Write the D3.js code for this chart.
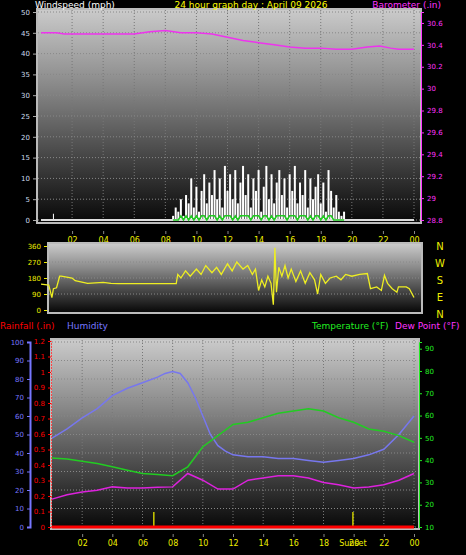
<!DOCTYPE html>
<html lang="en">
<head>
<meta charset="UTF-8">
<title>24 hour graph</title>
<style>
  body { margin: 0; background: #000; }
  text { font-family: "DejaVu Sans", sans-serif; }
</style>
</head>
<body>
<div id="chart"></div>
<script src="https://d3js.org/d3.v7.min.js"></script>
<script>
var hourTicks = [2, 4, 6, 8, 10, 12, 14, 16, 18, 20, 22, 24];
var hourLabels = ['02', '04', '06', '08', '10', '12', '14', '16', '18', '20', '22', '00'];

// barometer (hour, inHg)
var baroHours = [0, 1, 1.5, 3, 4, 6, 7, 8, 9, 10, 11, 12, 13, 14, 15, 16, 17, 18, 19, 20, 21, 21.8, 22.5, 23, 24];
var baroValues = [30.51, 30.51, 30.50, 30.50, 30.50, 30.50, 30.52, 30.53, 30.51, 30.51, 30.50, 30.47, 30.44, 30.42, 30.40, 30.38, 30.37, 30.37, 30.36, 30.36, 30.38, 30.39, 30.37, 30.36, 30.36];

// wind gusts (mph), one per 10 minutes starting 08:30
var gustStart = 8.5;
var gustValues = [1, 3, 2, 5, 1, 6, 4, 10, 3, 8, 2, 7, 11, 4, 9, 6, 12, 5, 10, 3, 13, 7, 11, 5, 12, 4, 9, 13, 6, 11, 3, 10, 7, 12, 2, 8, 13, 5, 11, 4, 9, 12, 6, 10, 3, 11, 7, 13, 4, 9, 6, 12, 3, 10, 5, 8, 11, 4, 9, 2, 12, 7, 3, 6, 2, 1, 2];
var avgValues = [0, 0, 0, 1, 0, 1, 0, 1, 0, 1, 0, 1, 1, 0, 1, 1, 1, 0, 1, 0, 1, 1, 1, 0, 1, 0, 1, 1, 1, 1, 0, 1, 1, 1, 0, 1, 1, 0, 1, 0, 1, 1, 1, 1, 0, 1, 1, 1, 0, 1, 1, 1, 0, 1, 0, 1, 1, 0, 1, 0, 1, 1, 0, 0, 0, 0, 0];

// wind direction (hour, degrees)
var dirHours = [0, 0.5, 0.7, 0.8, 1.0, 1.2, 1.3, 2.0, 2.2, 3.0, 4.0, 4.5, 5.0, 6.0, 7.0, 8.0, 8.7, 8.8, 9.0, 9.3, 9.6, 10.0, 10.3, 10.6, 11.0, 11.3, 11.6, 12.0, 12.3, 12.6, 13.0, 13.3, 13.6, 13.8, 14.0, 14.2, 14.4, 14.6, 14.8, 14.95, 15.05, 15.15, 15.3, 15.5, 15.7, 15.9, 16.1, 16.4, 16.7, 17.0, 17.3, 17.6, 17.8, 18.0, 18.3, 18.6, 19.0, 19.3, 19.6, 20.0, 20.5, 21.0, 21.2, 21.6, 21.9, 22.1, 22.3, 22.6, 22.9, 23.0, 23.5, 23.7, 24.0];
var dirValues = [145, 140, 70, 120, 125, 190, 190, 180, 165, 150, 155, 150, 148, 148, 148, 148, 148, 200, 180, 220, 190, 230, 200, 250, 210, 240, 200, 260, 220, 270, 230, 250, 200, 230, 110, 170, 130, 190, 150, 30, 350, 100, 240, 190, 250, 180, 230, 160, 220, 150, 210, 170, 90, 200, 150, 180, 190, 170, 200, 190, 200, 205, 120, 130, 110, 195, 150, 120, 100, 130, 130, 120, 70];

// bottom panel (hour based series)
var humHours = [0, 1, 2, 3, 4, 5, 6, 7, 7.5, 8, 8.5, 9, 9.5, 10, 10.5, 11, 11.5, 12, 13, 14, 15, 16, 17, 18, 19, 20, 21, 22, 23, 24];
var humValues = [48, 53, 59, 64, 71, 75, 78, 81, 83, 84, 83, 78, 70, 60, 50, 44, 41, 39, 38, 38, 37, 37, 36, 35, 36, 37, 39, 42, 50, 60];
var tempHours = [0, 1, 2, 3, 4, 5, 6, 7, 8, 9, 10, 11, 12, 13, 14, 15, 16, 17, 18, 19, 20, 21, 22, 23, 24];
var tempValues = [41, 40.5, 39.5, 38.5, 37, 35.5, 34, 33.5, 33, 37, 46, 51, 56, 57, 59, 61, 62, 63, 62, 59, 57, 54, 53, 51, 48];
var dewValues = [22.5, 24.5, 25.7, 26.5, 28, 27.5, 27.5, 27.8, 28, 34, 31, 27, 27, 31, 32, 33, 33, 32, 30, 29, 27.5, 28, 29, 31, 34];
var rainValues = [0, 0];
var rainHours = [0, 24];
var sunHours = [6.75, 19.95];

var W = 466, H = 555;
var svg = d3.select('#chart').append('svg').attr('width', W).attr('height', H);
var defs = svg.append('defs');
var grad = defs.append('linearGradient').attr('id', 'bg').attr('x1', 0).attr('y1', 0).attr('x2', 0).attr('y2', 1);
grad.append('stop').attr('offset', '0%').attr('stop-color', '#cacaca');
grad.append('stop').attr('offset', '35%').attr('stop-color', '#8a8a8a');
grad.append('stop').attr('offset', '100%').attr('stop-color', '#080808');

function panel(x0, x1, y0, y1) {
  svg.append('rect').attr('x', x0 - 2).attr('y', y0 - 2).attr('width', x1 - x0 + 4).attr('height', y1 - y0 + 4)
    .attr('fill', '#bbb');
  svg.append('rect').attr('x', x0).attr('y', y0).attr('width', x1 - x0).attr('height', y1 - y0)
    .attr('fill', 'url(#bg)');
}
function vgrid(x, y0, y1) {
  svg.append('g').selectAll('line').data(hourTicks).join('line')
    .attr('x1', d => x(d)).attr('x2', d => x(d)).attr('y1', y0).attr('y2', y1)
    .attr('stroke', '#777').attr('stroke-dasharray', '1,2');
}
function hgrid(y, ticks, x0, x1) {
  svg.append('g').selectAll('line').data(ticks).join('line')
    .attr('x1', x0).attr('x2', x1).attr('y1', d => y(d)).attr('y2', d => y(d))
    .attr('stroke', '#888').attr('stroke-dasharray', '1,2');
}
function hourAxis(x, yPos) {
  var g = svg.append('g').attr('transform', `translate(0,${yPos})`)
    .call(d3.axisBottom(x).tickValues(hourTicks).tickFormat((d, i) => hourLabels[i]).tickSize(3));
  g.select('.domain').remove();
  g.selectAll('line').attr('stroke', '#888');
  g.selectAll('text').attr('fill', '#ee0').attr('font-size', 8);
  return g;
}
function text(x, y, s, c, anchor, size) {
  svg.append('text').attr('x', x).attr('y', y).text(s).attr('fill', c)
    .attr('font-size', size || 9).attr('text-anchor', anchor || 'start');
}

// ---------- top panel ----------
var xT = d3.scaleLinear().domain([0, 24]).range([41, 414]);
var yWind = d3.scaleLinear().domain([0, 50]).range([220, 12]);
var yBaro = d3.scaleLinear().domain([28.8, 30.7]).range([220, 12]);
panel(38, 420, 10, 222);
vgrid(xT, 10, 222);
hgrid(yWind, d3.range(0, 51, 5), 38, 420);
text(35, 8, 'Windspeed (mph)', '#fff', 'start', 9);
text(251, 8, '24 hour graph day : April 09 2026', '#ff0', 'middle', 9);
text(441, 8, 'Barometer (.in)', '#f3f', 'end', 9);

var gl = svg.append('g').attr('transform', 'translate(36,0)')
  .call(d3.axisLeft(yWind).tickValues(d3.range(0, 51, 5)).tickSize(3));
gl.select('.domain').remove();
gl.selectAll('line').attr('stroke', '#aaa');
gl.selectAll('text').attr('fill', '#cde').attr('font-size', 7);
var gr = svg.append('g').attr('transform', 'translate(421,0)')
  .call(d3.axisRight(yBaro).tickValues(d3.range(28.8, 30.61, 0.2)).tickFormat(d => +d.toFixed(1)).tickSize(3));
gr.select('.domain').attr('stroke', '#f3f');
gr.selectAll('line').attr('stroke', '#f3f');
gr.selectAll('text').attr('fill', '#f3f').attr('font-size', 7);

svg.append('g').selectAll('line').data(gustValues).join('line')
  .attr('x1', (d, i) => xT(gustStart + i / 6)).attr('x2', (d, i) => xT(gustStart + i / 6))
  .attr('y1', yWind(0)).attr('y2', d => yWind(d))
  .attr('stroke', '#fff').attr('stroke-width', 2);
svg.append('line').attr('x1', xT(0.8)).attr('x2', xT(0.8)).attr('y1', yWind(0)).attr('y2', yWind(1.5))
  .attr('stroke', '#fff');
svg.append('line').attr('x1', xT(0)).attr('x2', xT(24)).attr('y1', yWind(0)).attr('y2', yWind(0))
  .attr('stroke', '#ddd').attr('stroke-width', 2);
svg.append('path').datum(avgValues)
  .attr('d', d3.line().x((d, i) => xT(gustStart + i / 6)).y(d => yWind(d)))
  .attr('fill', 'none').attr('stroke', '#2c2').attr('stroke-width', 1.5);
svg.append('path').datum(baroValues)
  .attr('d', d3.line().x((d, i) => xT(baroHours[i])).y(d => yBaro(d)))
  .attr('fill', 'none').attr('stroke', '#e3e').attr('stroke-width', 1.5);
hourAxis(xT, 231);

// ---------- middle panel ----------
var yDir = d3.scaleLinear().domain([0, 360]).range([310, 246]);
panel(49, 421, 244, 312);
hgrid(yDir, [90, 180, 270], 49, 421);
var gd = svg.append('g').attr('transform', 'translate(47,0)')
  .call(d3.axisLeft(yDir).tickValues([0, 90, 180, 270, 360]).tickSize(3));
gd.select('.domain').remove();
gd.selectAll('line').attr('stroke', '#ee0');
gd.selectAll('text').attr('fill', '#ee0').attr('font-size', 7);
svg.append('path').datum(dirValues)
  .attr('d', d3.line().x((d, i) => xT(dirHours[i])).y(d => yDir(d)))
  .attr('fill', 'none').attr('stroke', '#ee2').attr('stroke-width', 1.3);
['N', 'W', 'S', 'E', 'N'].forEach((c, i) => text(440, 250 + i * 17, c, '#ee0', 'middle', 10));

// ---------- bottom panel ----------
var xB = d3.scaleLinear().domain([0, 24]).range([52, 414]);
var yHum = d3.scaleLinear().domain([0, 100]).range([527, 342]);
var yRain = d3.scaleLinear().domain([0, 1.2]).range([527, 341]);
var yTemp = d3.scaleLinear().domain([10, 93]).range([527, 342]);
panel(52, 418, 340, 528);
vgrid(xB, 340, 528);
hgrid(yHum, d3.range(0, 101, 10), 52, 418);
text(0, 329, 'Rainfall (.in)', '#f00', 'start', 9);
text(67, 329, 'Humidity', '#77f', 'start', 9);
text(312, 329, 'Temperature (\u00b0F)', '#2e2', 'start', 9);
text(395, 329, 'Dew Point (\u00b0F)', '#f3f', 'start', 9);

var gh = svg.append('g').attr('transform', 'translate(30,0)')
  .call(d3.axisLeft(yHum).tickValues(d3.range(0, 101, 10)).tickSize(3));
gh.select('.domain').attr('stroke', '#77f').attr('stroke-width', 2);
gh.selectAll('line').attr('stroke', '#77f');
gh.selectAll('text').attr('fill', '#77f').attr('font-size', 7);
var gra = svg.append('g').attr('transform', 'translate(51,0)')
  .call(d3.axisLeft(yRain).tickValues(d3.range(0, 1.21, 0.1)).tickFormat(d => +d.toFixed(1)).tickSize(3));
gra.select('.domain').attr('stroke', '#f44').attr('stroke-dasharray', '2,1');
gra.selectAll('line').attr('stroke', '#f00');
gra.selectAll('text').attr('fill', '#f00').attr('font-size', 7);
var gt = svg.append('g').attr('transform', 'translate(419,0)')
  .call(d3.axisRight(yTemp).tickValues(d3.range(10, 91, 10)).tickSize(3));
gt.select('.domain').attr('stroke', '#2e2');
gt.selectAll('line').attr('stroke', '#2e2');
gt.selectAll('text').attr('fill', '#2e2').attr('font-size', 7);

svg.append('g').selectAll('line').data(sunHours).join('line')
  .attr('x1', d => xB(d)).attr('x2', d => xB(d)).attr('y1', 512).attr('y2', 528)
  .attr('stroke', '#cc0').attr('stroke-width', 1.5);
svg.append('path').datum(humValues)
  .attr('d', d3.line().x((d, i) => xB(humHours[i])).y(d => yHum(d)))
  .attr('fill', 'none').attr('stroke', '#77e').attr('stroke-width', 1.5);
svg.append('path').datum(tempValues)
  .attr('d', d3.line().x((d, i) => xB(tempHours[i])).y(d => yTemp(d)))
  .attr('fill', 'none').attr('stroke', '#2c2').attr('stroke-width', 1.5);
svg.append('path').datum(dewValues)
  .attr('d', d3.line().x((d, i) => xB(tempHours[i])).y(d => yTemp(d)))
  .attr('fill', 'none').attr('stroke', '#d2d').attr('stroke-width', 1.5);
svg.append('path').datum(rainValues)
  .attr('d', d3.line().x((d, i) => xB(rainHours[i])).y(d => yRain(d)))
  .attr('fill', 'none').attr('stroke', '#f00').attr('stroke-width', 3);
hourAxis(xB, 534);
text(xB(19.95), 546, 'Sunset', '#ee0', 'middle', 8);
</script>
</body>
</html>
